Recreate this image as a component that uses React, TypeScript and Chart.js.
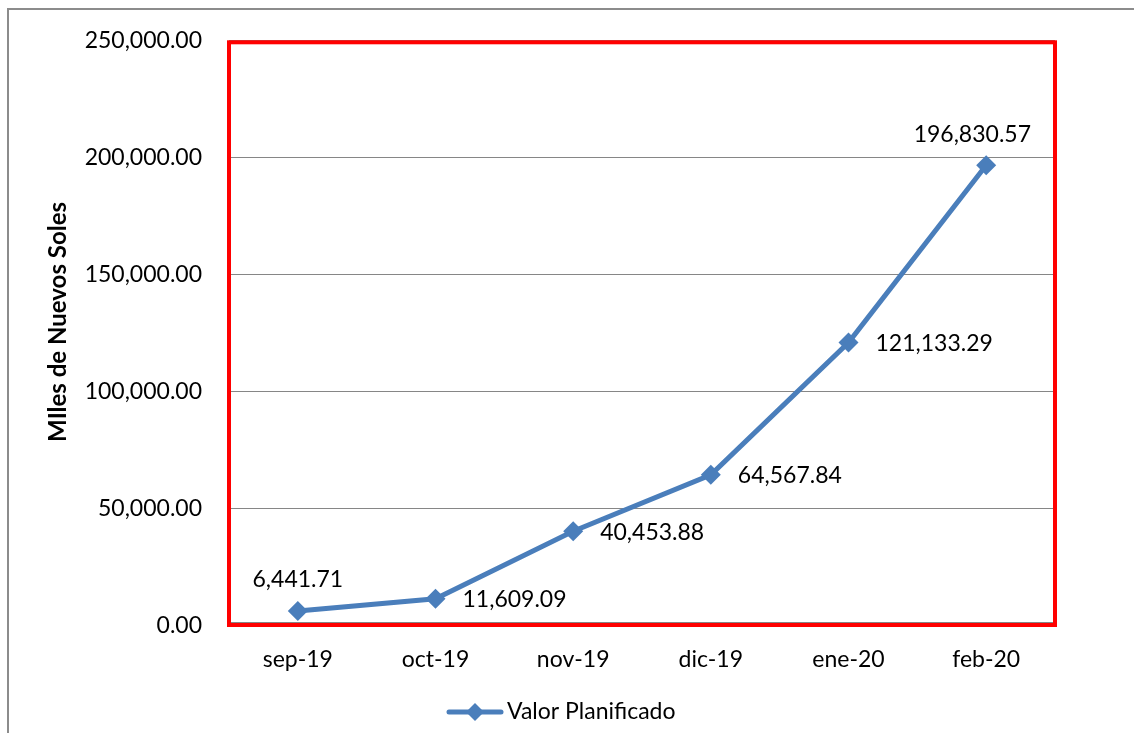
import React, { useEffect, useRef } from 'react';
import { Chart, registerables } from 'chart.js';

Chart.register(...registerables);

const categories = ['sep-19', 'oct-19', 'nov-19', 'dic-19', 'ene-20', 'feb-20'];
const valorPlanificado = [6441.71, 11609.09, 40453.88, 64567.84, 121133.29, 196830.57];
const yTickValues = [0, 50000, 100000, 150000, 200000, 250000];
const labelPlacement = ['above', 'right', 'right', 'right', 'right', 'above'];
const seriesName = 'Valor Planificado';
const yTitle = 'MIles de Nuevos Soles';

const FONT = 'Lato, "Open Sans", sans-serif';
const LINE_COLOR = '#4A7EBB';

const fmt = (n: number) =>
  n.toLocaleString('en-US', { minimumFractionDigits: 2, maximumFractionDigits: 2 });

const drawDiamond = (ctx: CanvasRenderingContext2D, x: number, y: number, r: number) => {
  ctx.beginPath();
  ctx.moveTo(x, y - r);
  ctx.lineTo(x + r, y);
  ctx.lineTo(x, y + r);
  ctx.lineTo(x - r, y);
  ctx.closePath();
  ctx.fill();
};

const decorPlugin = {
  id: 'decor',
  beforeDatasetsDraw(chart: any) {
    const { ctx, chartArea: a } = chart;
    ctx.save();
    // gray axis line just inside the bottom of the frame
    ctx.strokeStyle = '#868686';
    ctx.lineWidth = 1;
    ctx.beginPath();
    ctx.moveTo(a.left, a.bottom - 3.5);
    ctx.lineTo(a.right, a.bottom - 3.5);
    ctx.stroke();
    // red plot-area frame
    ctx.strokeStyle = '#FF0000';
    ctx.lineWidth = 4;
    ctx.strokeRect(a.left, a.top + 1.5, a.right - a.left, a.bottom - 1 - (a.top + 1.5));
    ctx.restore();
  },
  afterDatasetsDraw(chart: any) {
    const { ctx, chartArea: a } = chart;
    const meta = chart.getDatasetMeta(0);
    const data = chart.data.datasets[0].data as number[];
    ctx.save();
    ctx.font = `23px ${FONT}`;
    ctx.fillStyle = '#000000';
    ctx.textBaseline = 'middle';
    meta.data.forEach((pt: any, i: number) => {
      const text = fmt(data[i]);
      const w = ctx.measureText(text).width;
      if (labelPlacement[i] === 'above') {
        let x = pt.x - w / 2;
        if (x + w > a.right - 24) x = a.right - 24 - w;
        ctx.textAlign = 'left';
        ctx.fillText(text, x, pt.y - 31);
      } else {
        ctx.textAlign = 'left';
        ctx.fillText(text, pt.x + 27, pt.y + 1);
      }
    });
    // y-axis title
    ctx.save();
    ctx.translate(58.5, 322);
    ctx.rotate(-Math.PI / 2);
    ctx.font = `bold 24px ${FONT}`;
    ctx.textAlign = 'center';
    ctx.fillText(yTitle, 0, 0);
    ctx.restore();
    // legend
    const ly = 712;
    ctx.strokeStyle = LINE_COLOR;
    ctx.lineWidth = 5;
    ctx.lineCap = 'round';
    ctx.beginPath();
    ctx.moveTo(449, ly);
    ctx.lineTo(501, ly);
    ctx.stroke();
    ctx.fillStyle = LINE_COLOR;
    drawDiamond(ctx, 475, ly, 9);
    ctx.fillStyle = '#000000';
    ctx.font = `23px ${FONT}`;
    ctx.textAlign = 'left';
    ctx.fillText(seriesName, 507, ly);
    ctx.restore();
  },
};

export default function App() {
  const ref = useRef<HTMLCanvasElement | null>(null);

  useEffect(() => {
    if (!ref.current) return;
    const chart = new Chart(ref.current, {
      type: 'line',
      data: {
        labels: categories,
        datasets: [
          {
            label: seriesName,
            data: valorPlanificado,
            borderColor: LINE_COLOR,
            backgroundColor: LINE_COLOR,
            borderWidth: 5,
            pointStyle: 'rectRot',
            pointRadius: 10,
            pointBorderWidth: 0,
            pointBackgroundColor: LINE_COLOR,
            tension: 0,
            fill: false,
          },
        ],
      },
      options: {
        responsive: false,
        animation: false,
        layout: { padding: { left: 0, top: 38, right: 79, bottom: 0 } },
        plugins: {
          legend: { display: false },
          tooltip: { enabled: false },
          title: { display: false },
        },
        scales: {
          x: {
            offset: true,
            grid: { display: false, drawTicks: false },
            border: { display: false },
            ticks: { color: '#000000', font: { family: FONT, size: 23 }, padding: 20 },
            afterFit: (s: any) => {
              s.height = 107;
            },
          },
          y: {
            min: 0,
            max: 250000,
            afterBuildTicks: (s: any) => {
              s.ticks = yTickValues.map((v) => ({ value: v }));
            },
            grid: { color: '#868686', lineWidth: 1, drawTicks: false },
            border: { display: false },
            ticks: {
              color: '#000000',
              font: { family: FONT, size: 23 },
              padding: 27,
              callback: (v: any) => fmt(Number(v)),
            },
            afterFit: (s: any) => {
              s.width = 229;
            },
          },
        },
      },
      plugins: [decorPlugin],
    });
    return () => chart.destroy();
  }, []);

  return (
    <div
      style={{
        position: 'fixed',
        left: 0,
        top: 0,
        width: 1134,
        height: 733,
        overflow: 'hidden',
        background: '#ffffff',
      }}
    >
      <div
        style={{
          position: 'absolute',
          left: 7,
          top: 8,
          width: 1300,
          height: 900,
          borderLeft: '2px solid #8c8c8c',
          borderTop: '2px solid #8c8c8c',
        }}
      />
      <canvas
        ref={ref}
        width={1134}
        height={733}
        style={{ position: 'absolute', left: 0, top: 0, width: 1134, height: 733 }}
      />
    </div>
  );
}
